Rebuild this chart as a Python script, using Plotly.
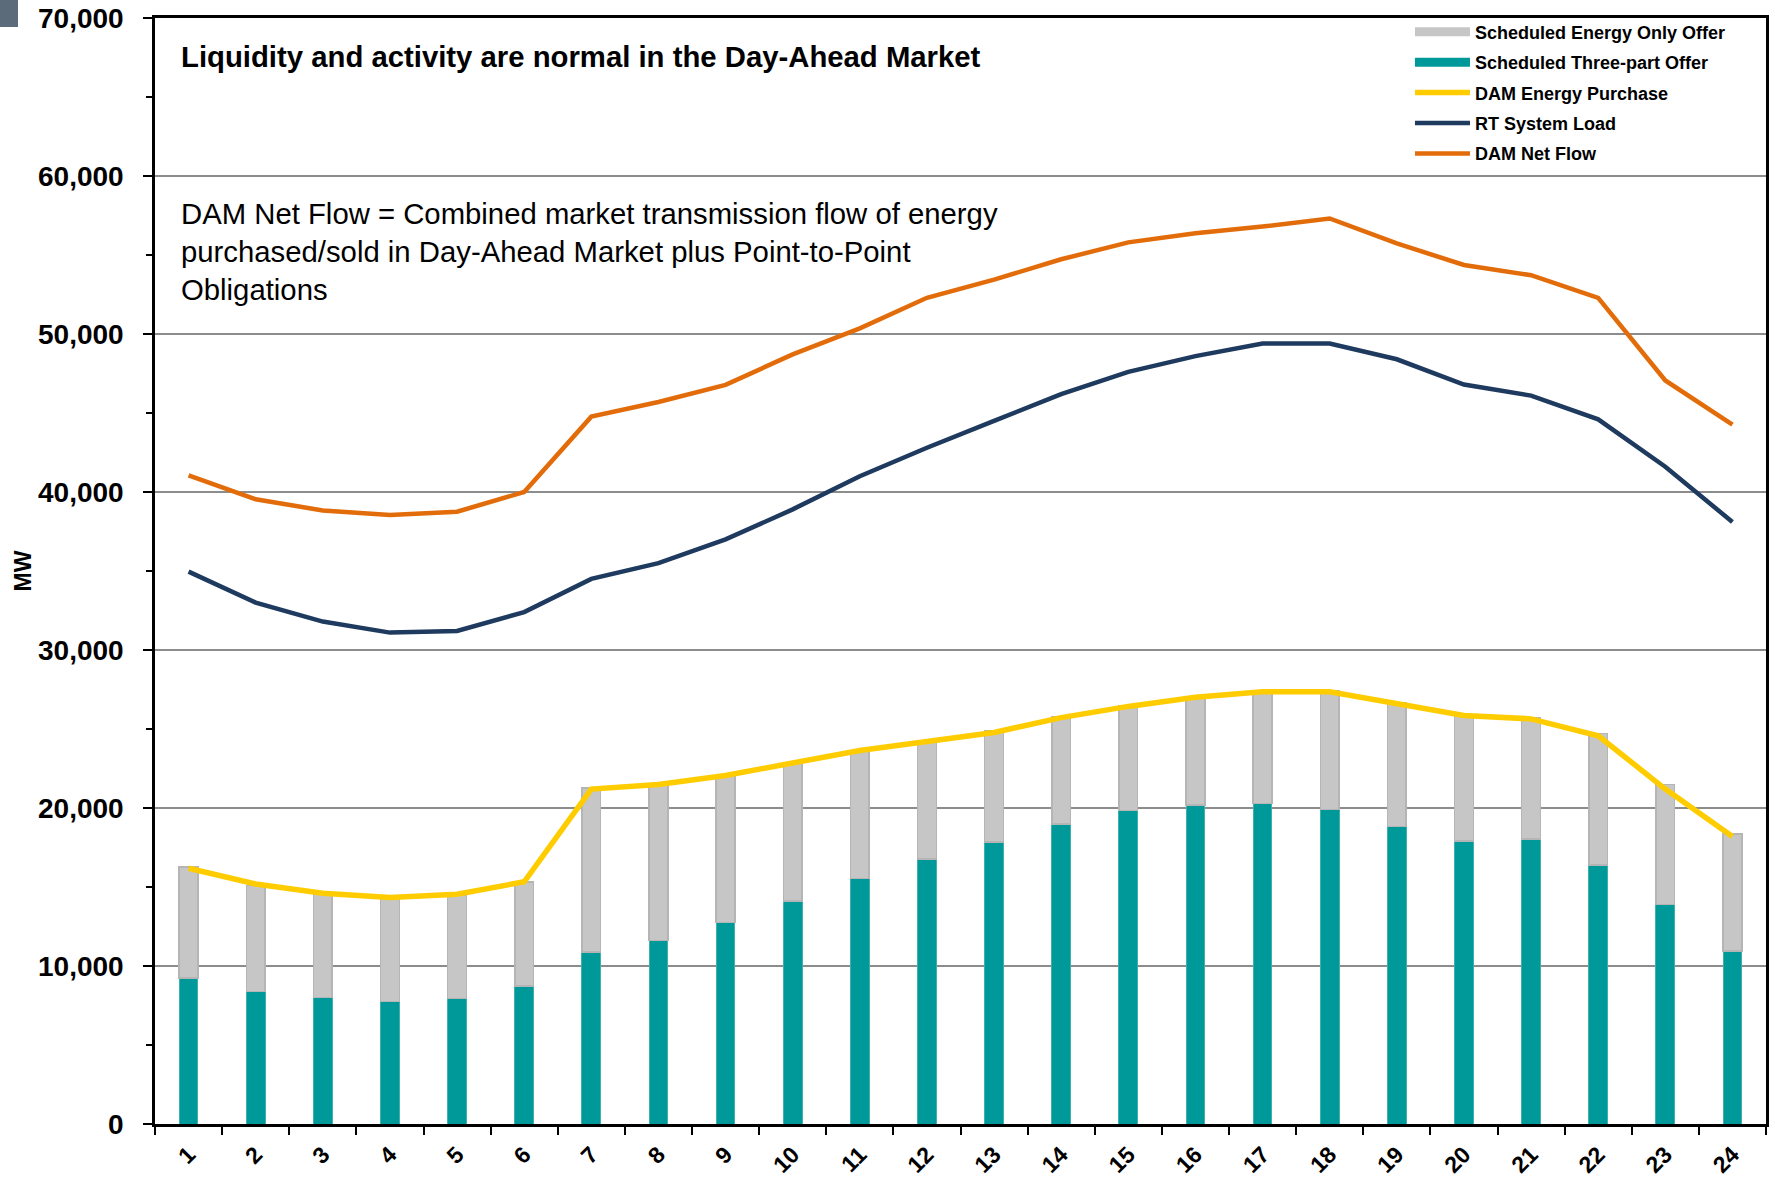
import plotly.graph_objects as go

hours = [str(h) for h in range(1, 25)]

three_part = [9240, 8380, 8020, 7740, 7950, 8740, 10890, 11600, 12750, 14110, 15540, 16760,
              17840, 18980, 19840, 20200, 20270, 19910, 18840, 17910, 18050, 16400, 13900, 10960]
total_scheduled = [16260, 15110, 14610, 14330, 14470, 15330, 21270, 21560, 22060, 22850, 23640, 24210,
                   24860, 25790, 26500, 27010, 27360, 27440, 26650, 25930, 25720, 24710, 21490, 18340]
energy_only = [t - p for t, p in zip(total_scheduled, three_part)]

dam_purchase = [16190, 15190, 14610, 14330, 14540, 15330, 21200, 21490, 22060, 22850, 23640, 24210,
                24780, 25720, 26430, 27010, 27360, 27360, 26580, 25860, 25640, 24570, 21200, 18190]
rt_load = [34960, 33000, 31800, 31100, 31200, 32400, 34500, 35500, 37000, 38900, 41000, 42800,
           44500, 46200, 47600, 48600, 49400, 49400, 48400, 46800, 46100, 44600, 41600, 38100]
dam_net_flow = [41050, 39540, 38830, 38540, 38750, 40000, 44770, 45700, 46780, 48710, 50360, 52290,
                53440, 54730, 55800, 56380, 56800, 57310, 55730, 54370, 53720, 52290, 47060, 44270]

y_ticks = list(range(0, 70001, 10000))
y_ticklabels = [f"{v:,}" for v in y_ticks]

GRAY = "#C6C6C6"
TEAL = "#009999"
YELLOW = "#FFCC00"
NAVY = "#1F3A5F"
ORANGE = "#E36C0A"
FONT = "Arial, Liberation Sans, sans-serif"

fig = go.Figure()

fig.add_trace(go.Bar(x=hours, y=three_part, name="Scheduled Three-part Offer",
                     marker=dict(color=TEAL, line=dict(color="#3FAFAF", width=1)),
                     showlegend=False, legendgroup="tp"))
fig.add_trace(go.Bar(x=hours, y=energy_only, name="Scheduled Energy Only Offer",
                     marker=dict(color=GRAY, line=dict(color="#B5B5B5", width=1.5)),
                     showlegend=False, legendgroup="eo"))
fig.add_trace(go.Scatter(x=hours, y=dam_purchase, mode="lines", name="DAM Energy Purchase",
                         line=dict(color=YELLOW, width=5.5), legendgroup="dp", legendrank=3))
fig.add_trace(go.Scatter(x=hours, y=rt_load, mode="lines", name="RT System Load",
                         line=dict(color=NAVY, width=4.5), legendgroup="rt", legendrank=4))
fig.add_trace(go.Scatter(x=hours, y=dam_net_flow, mode="lines", name="DAM Net Flow",
                         line=dict(color=ORANGE, width=4.5), legendgroup="nf", legendrank=5))

# legend entries for the bar series (shown as thick swatches like the original)
fig.add_trace(go.Scatter(x=[None], y=[None], mode="lines", name="Scheduled Energy Only Offer",
                         line=dict(color=GRAY, width=9), legendgroup="eo", legendrank=1))
fig.add_trace(go.Scatter(x=[None], y=[None], mode="lines", name="Scheduled Three-part Offer",
                         line=dict(color=TEAL, width=9), legendgroup="tp", legendrank=2))

fig.update_layout(
    width=1775, height=1178,
    barmode="stack", bargap=0.72,
    plot_bgcolor="white", paper_bgcolor="white",
    margin=dict(l=155, r=9, t=18, b=54, autoexpand=False),
    font=dict(family=FONT, color="black"),
    legend=dict(x=0.779, y=1.004, xanchor="left", yanchor="top",
                font=dict(family=FONT, size=18, color="black", weight="bold"),
                bgcolor="rgba(255,255,255,0)", tracegroupgap=4, itemwidth=55,
                traceorder="grouped"),
    xaxis=dict(type="category", tickson="boundaries", ticks="outside", ticklen=8,
               tickwidth=1.5, tickcolor="black", tickangle=-45, automargin=False,
               tickfont=dict(family=FONT, size=23, weight="bold"), ticklabelstandoff=5,
               showline=True, linecolor="black", linewidth=3, mirror=True,
               showgrid=False, range=[-0.5, 23.5]),
    yaxis=dict(range=[0, 70000], tickvals=y_ticks, ticktext=y_ticklabels,
               ticks="outside", ticklen=9, tickwidth=1.5, tickcolor="black",
               tickfont=dict(family=FONT, size=28, weight="bold"), automargin=False,
               ticklabelstandoff=14,
               minor=dict(dtick=5000, ticks="outside", ticklen=6, tickcolor="black", showgrid=False),
               showline=True, linecolor="black", linewidth=2.5, mirror=True,
               showgrid=True, gridcolor="#8C8C8C", gridwidth=2,
               zeroline=False,
               title=dict(text="MW", font=dict(family=FONT, size=23, weight="bold"), standoff=0)),
)

fig.add_annotation(xref="paper", yref="paper", x=0.015, y=0.965, xanchor="left", yanchor="middle",
                   text="<b>Liquidity and activity are normal in the Day-Ahead Market</b>",
                   showarrow=False, font=dict(family=FONT, size=29.3, color="black"))
fig.add_annotation(xref="paper", yref="paper", x=0.015, y=0.789, xanchor="left", yanchor="middle",
                   align="left", showarrow=False,
                   text="DAM Net Flow = Combined market transmission flow of energy<br>"
                        "purchased/sold in Day-Ahead Market plus Point-to-Point<br>Obligations",
                   font=dict(family=FONT, size=29.3, color="black"))

# small decorative marker in the top-left corner of the original slide
fig.add_shape(type="rect", xref="paper", yref="paper", x0=-155 / 1611, x1=-137 / 1611,
              y0=1 + (18 - 27) / 1106, y1=1 + 18 / 1106, fillcolor="#5B6B7A", line=dict(width=0),
              layer="above")

fig.write_html("out.html", config={"displayModeBar": False},
               post_script="document.body.style.margin='0';")
